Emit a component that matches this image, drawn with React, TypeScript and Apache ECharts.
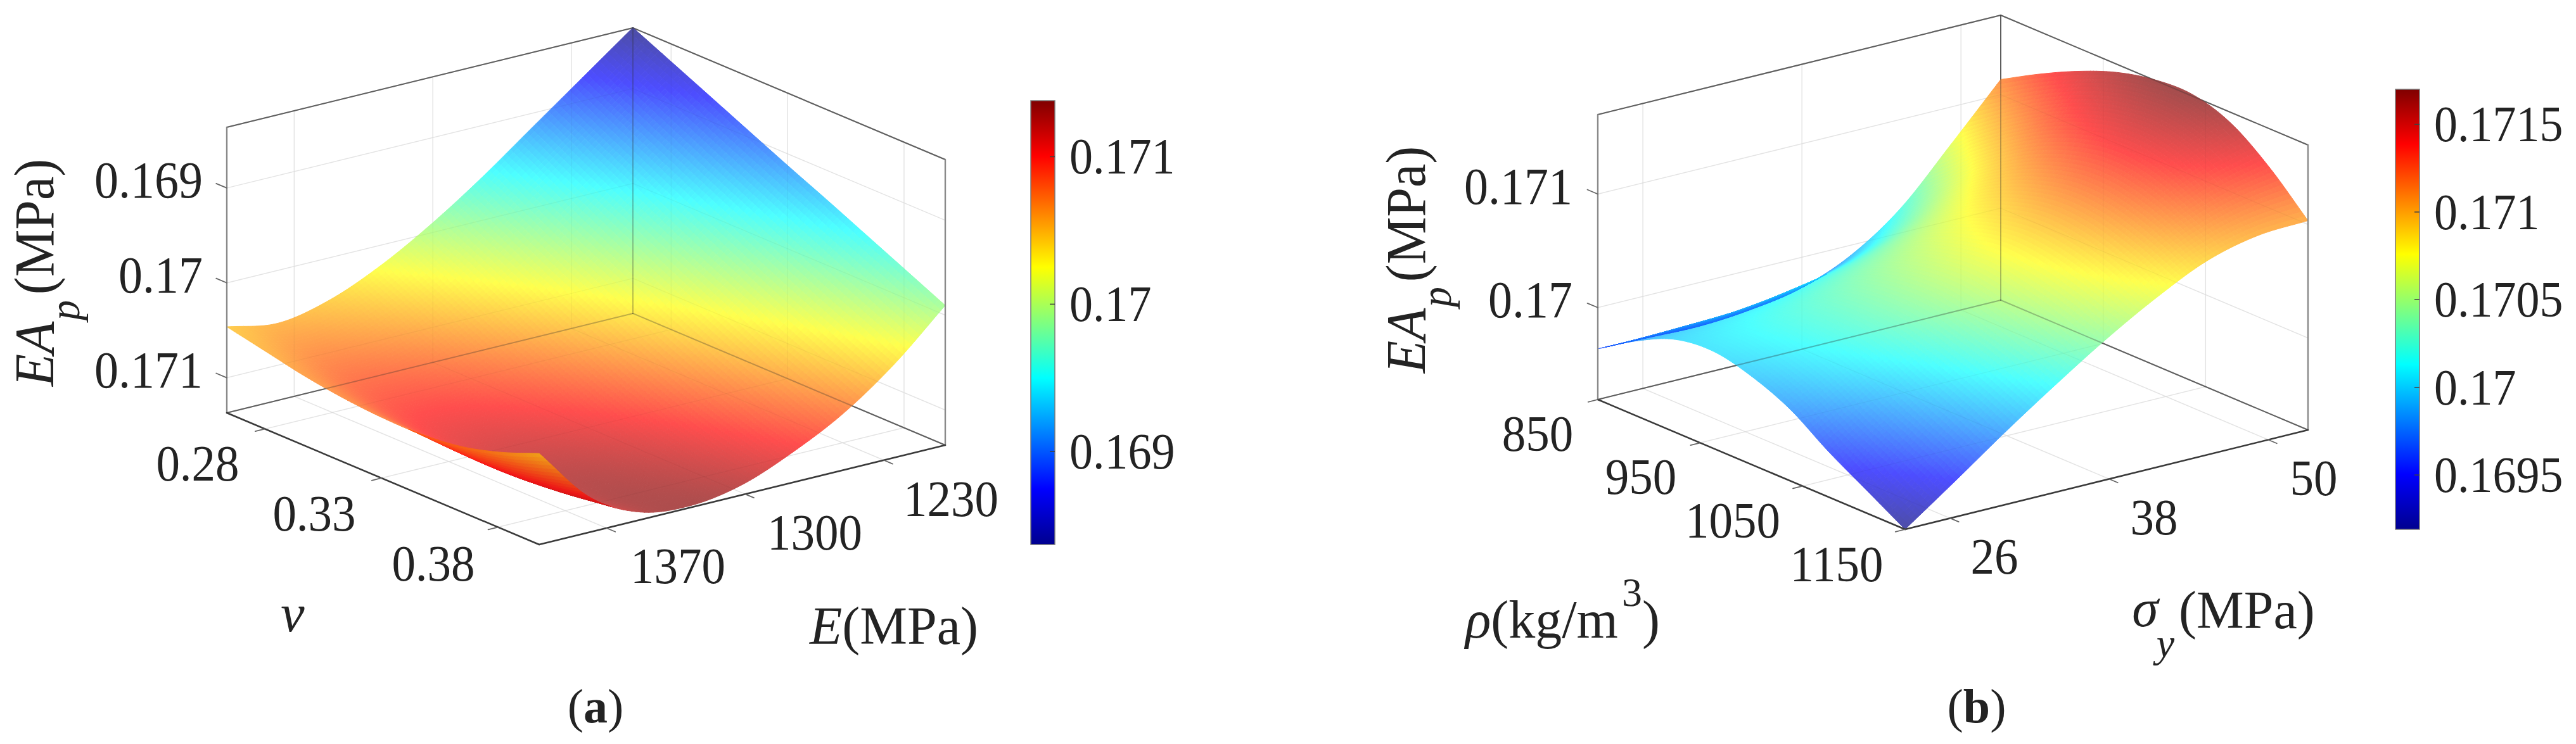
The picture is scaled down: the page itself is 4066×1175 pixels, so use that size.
import React, { useEffect, useRef } from "react";
import * as echarts from "echarts";

// ---------- data ----------
const poissonRatio = [0.2636, 0.2804, 0.2971, 0.3139, 0.3307, 0.3474, 0.3642, 0.3809, 0.3977];
const youngModulus = [1404, 1378, 1353, 1327, 1301, 1276, 1250, 1224, 1199];
// rows follow youngModulus, columns follow poissonRatio
const eaByPoissonAndModulus = [
  [0.170463, 0.17055, 0.170637, 0.170697, 0.17073, 0.17073, 0.170683, 0.17057, 0.17041],
  [0.170557, 0.170697, 0.17083, 0.170943, 0.171037, 0.171097, 0.171117, 0.171083, 0.171003],
  [0.17045, 0.170623, 0.170803, 0.170957, 0.17109, 0.171197, 0.171277, 0.171303, 0.17129],
  [0.170223, 0.170423, 0.170623, 0.170803, 0.17097, 0.171117, 0.17123, 0.171303, 0.17135],
  [0.169917, 0.17013, 0.170343, 0.17055, 0.170737, 0.17091, 0.171057, 0.17117, 0.171263],
  [0.169557, 0.169777, 0.170003, 0.17021, 0.17041, 0.170603, 0.170777, 0.170923, 0.17105],
  [0.169157, 0.169383, 0.169603, 0.169823, 0.170037, 0.170237, 0.17043, 0.170603, 0.17077],
  [0.168757, 0.16897, 0.169183, 0.169397, 0.169603, 0.16981, 0.17001, 0.170197, 0.170383],
  [0.168357, 0.16855, 0.168743, 0.168937, 0.16913, 0.169317, 0.16951, 0.169703, 0.169897],
];
const density = [850, 887.5, 925, 962.5, 1000, 1037.5, 1075, 1112.5, 1150];
const yieldStress = [22.6, 26.4, 30.2, 34, 37.8, 41.6, 45.4, 49.2, 53];
// rows follow yieldStress, columns follow density
const eaByDensityAndYield = [
  [0.169637, 0.169849, 0.170006, 0.170045, 0.169967, 0.169821, 0.169592, 0.169391, 0.16919],
  [0.169626, 0.169872, 0.170067, 0.170151, 0.170129, 0.170039, 0.16986, 0.169687, 0.169508],
  [0.169615, 0.169894, 0.170123, 0.170263, 0.170296, 0.170257, 0.170134, 0.169995, 0.169833],
  [0.169648, 0.169955, 0.170212, 0.170391, 0.170475, 0.170486, 0.170402, 0.170285, 0.17014],
  [0.169726, 0.17005, 0.170335, 0.170542, 0.170665, 0.170721, 0.170671, 0.17057, 0.17043],
  [0.169905, 0.170229, 0.17052, 0.170743, 0.170894, 0.170972, 0.170944, 0.170838, 0.170687],
  [0.170212, 0.17052, 0.170793, 0.171011, 0.171162, 0.17124, 0.171207, 0.171084, 0.1709],
  [0.170665, 0.170922, 0.171145, 0.17133, 0.171453, 0.171503, 0.171436, 0.171257, 0.171011],
  [0.171134, 0.171324, 0.171492, 0.171626, 0.171704, 0.171715, 0.171604, 0.171358, 0.171034],
];
const poissonTicks = ["0.28", "0.33", "0.38"];
const modulusTicks = ["1370", "1300", "1230"];
const densityTicks = ["850", "950", "1050", "1150"];
const yieldTicks = ["26", "38", "50"];
const eaTicksA = ["0.169", "0.17", "0.171"];
const eaTicksB = ["0.17", "0.171"];
const colorTicksA = ["0.171", "0.17", "0.169"];
const colorTicksB = ["0.1715", "0.171", "0.1705", "0.17", "0.1695"];

// ---------- layout ----------
const W = 4066;
const H = 1175;
const SERIF = "Liberation Serif";
const INK = "#232323";
const SUB = 12;

const panels: any[] = [
  {
    xs: poissonRatio, ys: youngModulus, zs: eaByPoissonAndModulus,
    xTicks: poissonTicks, yTicks: modulusTicks, zTicks: eaTicksA,
    org: [358, 652], vS: [493, 208], vU: [641, -157], boxH: 451,
    zFloor: 0.17137, zTop: 0.16836, cMin: 0.16837, cMax: 0.17138,
    xLabelAt: [[312, 732], [496, 811], [684, 890]],
    yLabelAt: [[1070, 894], [1286, 841], [1501, 788]],
    zLabelX: 320, zLabelDy: -12,
    bar: { x: 1627, y: 159, w: 38, h: 701, labelX: 1688, ticks: colorTicksA },
  },
  {
    xs: density, ys: yieldStress, zs: eaByDensityAndYield,
    xTicks: densityTicks, yTicks: yieldTicks, zTicks: eaTicksB,
    org: [2522, 631], vS: [485, 205], vU: [636, -157], boxH: 450,
    zFloor: 0.16919, zTop: 0.1717, cMin: 0.16919, cMax: 0.1717,
    xLabelAt: [[2427, 685], [2590, 753], [2735, 822], [2899, 891]],
    yLabelAt: [[3148, 879], [3400, 817], [3652, 755]],
    zLabelX: 2482, zLabelDy: -12,
    bar: { x: 3781, y: 141, w: 38, h: 695, labelX: 3842, ticks: colorTicksB },
  },
];

const clamp01 = (v: number) => Math.max(0, Math.min(1, v));
function jet(t: number): number[] {
  return [
    clamp01(Math.min(4 * t - 1.5, -4 * t + 4.5)) * 255,
    clamp01(Math.min(4 * t - 0.5, -4 * t + 3.5)) * 255,
    clamp01(Math.min(4 * t + 0.5, -4 * t + 2.5)) * 255,
  ];
}
const over = (c: number[], alpha: number, under: number[]) => c.map((v, k) => v * alpha + under[k] * (1 - alpha));
const css = (c: number[]) => `rgb(${Math.round(c[0])},${Math.round(c[1])},${Math.round(c[2])})`;
const WHITE = [255, 255, 255];

const project = (p: any, s: number, u: number, z: number) => [
  p.org[0] + p.vS[0] * s + p.vU[0] * u,
  p.org[1] + p.vS[1] * s + p.vU[1] * u - ((z - p.zFloor) / (p.zTop - p.zFloor)) * p.boxH,
];
const sOf = (p: any, v: number) => (v - p.xs[0]) / (p.xs[p.xs.length - 1] - p.xs[0]);
const uOf = (p: any, v: number) => (v - p.ys[0]) / (p.ys[p.ys.length - 1] - p.ys[0]);

function spline(a: number, b: number, c: number, d: number, t: number) {
  return 0.5 * (2 * b + (c - a) * t + (2 * a - 5 * b + 4 * c - d) * t * t + (3 * b - a - 3 * c + d) * t * t * t);
}
function sample(grid: number[][], fi: number, fj: number) {
  const n = grid[0].length;
  const m = grid.length;
  const i = Math.min(n - 2, Math.floor(fi));
  const j = Math.min(m - 2, Math.floor(fj));
  const at = (r: number, c: number) => {
    const rr = r < 0 ? 0 : r >= m ? m - 1 : r;
    const cc = c < 0 ? 0 : c >= n ? n - 1 : c;
    const base = grid[rr][cc];
    const dr = r < 0 ? grid[0][cc] - grid[1][cc] : r >= m ? grid[m - 1][cc] - grid[m - 2][cc] : 0;
    const dc = c < 0 ? grid[rr][0] - grid[rr][1] : c >= n ? grid[rr][n - 1] - grid[rr][n - 2] : 0;
    return base + dr + dc;
  };
  const row = [-1, 0, 1, 2].map((dj) =>
    spline(at(j + dj, i - 1), at(j + dj, i), at(j + dj, i + 1), at(j + dj, i + 2), fi - i)
  );
  return spline(row[0], row[1], row[2], row[3], fj - j);
}

function buildMesh(p: any) {
  const n = p.xs.length - 1;
  const m = p.ys.length - 1;
  const verts: any[][] = [];
  for (let a = 0; a <= n * SUB; a++) {
    verts[a] = [];
    for (let b = 0; b <= m * SUB; b++) {
      const fi = a / SUB;
      const fj = b / SUB;
      const z = sample(p.zs, fi, fj);
      verts[a][b] = { pt: project(p, fi / n, fj / m, z), z };
    }
  }
  const refSign = Math.sign(p.vS[0] * p.vU[1] - p.vS[1] * p.vU[0]);
  const cells: any[] = [];
  const front: any[] = [];
  const back: any[] = [];
  for (let i = 0; i < n; i++) {
    for (let j = m - 1; j >= 0; j--) {
      const faces: any[] = [];
      for (let da = 0; da < SUB; da++) {
        for (let db = SUB - 1; db >= 0; db--) {
          const a = i * SUB + da;
          const b = j * SUB + db;
          const q = [verts[a][b], verts[a + 1][b], verts[a + 1][b + 1], verts[a][b + 1]];
          const pts = q.map((v) => v.pt);
          let area = 0;
          for (let k = 0; k < 4; k++) {
            const e = pts[k];
            const f = pts[(k + 1) % 4];
            area += e[0] * f[1] - f[0] * e[1];
          }
          const z = (q[0].z + q[1].z + q[2].z + q[3].z) / 4;
          const c = jet(clamp01((z - p.cMin) / (p.cMax - p.cMin)));
          const cx = (pts[0][0] + pts[2][0]) / 2;
          const cy = (pts[0][1] + pts[2][1]) / 2;
          const face: any = { pts, c, cx, cy, main: over(c, 0.7, WHITE) };
          if (Math.sign(area) === refSign || Math.abs(area) < 1e-6) {
            faces.push(face);
            front.push(face);
          } else {
            back.push(face);
          }
        }
      }
      cells.push(faces);
    }
  }
  back.forEach((f) => {
    let best = 1e12;
    let under = f.main;
    for (const g of front) {
      const d = (g.cx - f.cx) ** 2 + (g.cy - f.cy) ** 2;
      if (d < best) {
        best = d;
        under = g.main;
      }
    }
    f.fill = over(f.c, 0.7, under);
  });
  return { cells, back };
}

function backGrid(p: any) {
  const out: any[] = [];
  const L = (a: number[], b: number[]) => out.push([project(p, a[0], a[1], a[2]), project(p, b[0], b[1], b[2])]);
  p.xTicks.forEach((t: string) => {
    const s = sOf(p, +t);
    L([s, 0, p.zFloor], [s, 1, p.zFloor]);
    L([s, 1, p.zFloor], [s, 1, p.zTop]);
  });
  p.yTicks.forEach((t: string) => {
    const u = uOf(p, +t);
    L([0, u, p.zFloor], [1, u, p.zFloor]);
    L([0, u, p.zFloor], [0, u, p.zTop]);
  });
  p.zTicks.forEach((t: string) => {
    const z = +t;
    L([0, 0, z], [0, 1, z]);
    L([0, 1, z], [1, 1, z]);
  });
  return out;
}
function backBox(p: any) {
  const c = (s: number, u: number, top: boolean) => project(p, s, u, top ? p.zTop : p.zFloor);
  return [
    [c(0, 0, true), c(0, 1, true)],
    [c(0, 1, true), c(1, 1, true)],
    [c(0, 1, true), c(0, 1, false)],
    [c(0, 0, false), c(0, 1, false)],
    [c(0, 1, false), c(1, 1, false)],
  ];
}
function frontBox(p: any) {
  const c = (s: number, u: number, top: boolean) => project(p, s, u, top ? p.zTop : p.zFloor);
  return [
    [c(0, 0, false), c(1, 0, false)],
    [c(1, 0, false), c(1, 1, false)],
  ];
}
function sideBox(p: any) {
  const c = (s: number, u: number, top: boolean) => project(p, s, u, top ? p.zTop : p.zFloor);
  return [
    [c(0, 0, true), c(0, 0, false)],
    [c(1, 1, true), c(1, 1, false)],
  ];
}
function tickMarks(p: any) {
  const out: any[] = [];
  p.xTicks.forEach((t: string) => {
    const a = project(p, sOf(p, +t), 0, p.zFloor);
    out.push([a, [a[0] - p.vU[0] * 0.024, a[1] - p.vU[1] * 0.024]]);
  });
  p.yTicks.forEach((t: string) => {
    const a = project(p, 1, uOf(p, +t), p.zFloor);
    out.push([a, [a[0] + p.vS[0] * 0.028, a[1] + p.vS[1] * 0.028]]);
  });
  p.zTicks.forEach((t: string) => {
    const a = project(p, 0, 0, +t);
    out.push([a, [a[0] - p.vS[0] * 0.034, a[1] - p.vS[1] * 0.034]]);
  });
  return out;
}

function lineSeries(lines: any[], stroke: string, lineWidth: number, z: number, opacity = 1) {
  return {
    type: "custom", coordinateSystem: "cartesian2d", silent: true, clip: false, z, data: [[0, 0]],
    renderItem: (_: any, api: any) => ({
      type: "group",
      children: lines.map((l) => {
        const a = api.coord(l[0]);
        const b = api.coord(l[1]);
        return {
          type: "line",
          shape: { x1: a[0], y1: a[1], x2: b[0], y2: b[1] },
          style: { stroke, lineWidth, opacity, lineCap: "round" },
        };
      }),
    }),
  };
}

function buildSeries() {
  const series: any[] = [];
  panels.forEach((p) => {
    const mesh = buildMesh(p);
    const grid = backGrid(p);
    const box = backBox(p);
    series.push(lineSeries(grid, "#ececec", 1.5, 1));
    series.push(lineSeries(box, "#757575", 2, 2));
    series.push({
      type: "custom", coordinateSystem: "cartesian2d", silent: true, clip: false, z: 3,
      data: mesh.cells.map((_: any, k: number) => [k, 0]),
      renderItem: (params: any, api: any) => ({
        type: "group",
        children: mesh.cells[params.dataIndex].map((f: any) => {
          const fill = css(f.main);
          return {
            type: "polygon",
            shape: { points: f.pts.map((q: number[]) => api.coord(q)) },
            style: { fill, stroke: fill, lineWidth: 1 },
          };
        }),
      }),
    });
    series.push(lineSeries(grid, "#000000", 1.4, 4, 0.035));
    series.push(lineSeries(box, "#303030", 2, 4, 0.3));
    series.push({
      type: "custom", coordinateSystem: "cartesian2d", silent: true, clip: false, z: 5, data: [[0, 0]],
      renderItem: (_: any, api: any) => ({
        type: "group",
        children: mesh.back.map((f: any) => {
          const fill = css(f.fill);
          return {
            type: "polygon",
            shape: { points: f.pts.map((q: number[]) => api.coord(q)) },
            style: { fill, stroke: fill, lineWidth: 1 },
          };
        }),
      }),
    });
    series.push(lineSeries(sideBox(p), "#8a8a8a", 2.4, 6));
    series.push(lineSeries(frontBox(p), "#3a3a3a", 2.6, 6));
    series.push(lineSeries(tickMarks(p), "#666666", 1.8, 6));
  });
  return series;
}

// ---------- texts and colour bars ----------
function label(text: string, x: number, y: number, fontSize: number, align = "center", extra: any = {}) {
  return {
    type: "text", x, y, rotation: extra.rotation || 0, scaleY: extra.scaleY || 1, z: 20, silent: true,
    style: {
      text, x: 0, y: 0, fill: INK, align, verticalAlign: "middle",
      fontFamily: SERIF, fontSize, fontStyle: extra.italic ? "italic" : "normal",
      fontWeight: extra.bold ? "bold" : "normal",
      rich: extra.rich,
    },
  };
}
function rich(fontSize: number) {
  const common = { fontFamily: SERIF, fontSize, fill: INK };
  return {
    i: { ...common, fontStyle: "italic" },
    n: { ...common },
    b: { ...common, fontWeight: "bold" },
  };
}

function buildGraphics() {
  const els: any[] = [];
  const tall = { scaleY: 1.08 };
  panels.forEach((p) => {
    p.xTicks.forEach((t: string, k: number) => els.push(label(t, p.xLabelAt[k][0], p.xLabelAt[k][1], 75, "center", tall)));
    p.yTicks.forEach((t: string, k: number) => els.push(label(t, p.yLabelAt[k][0], p.yLabelAt[k][1], 75, "center", tall)));
    p.zTicks.forEach((t: string) => {
      const a = project(p, 0, 0, +t);
      els.push(label(t, p.zLabelX, a[1] + p.zLabelDy, 76, "right", tall));
    });
    const b = p.bar;
    const toY = (v: number) => b.y + ((p.cMax - v) / (p.cMax - p.cMin)) * b.h;
    els.push({
      type: "rect", z: 15, silent: true,
      shape: { x: b.x, y: b.y, width: b.w, height: b.h },
      style: {
        stroke: "#7a7a7a", lineWidth: 1.5,
        fill: {
          type: "linear", x: 0, y: 1, x2: 0, y2: 0,
          colorStops: [
            { offset: 0, color: "#00008f" }, { offset: 0.125, color: "#0000ff" },
            { offset: 0.375, color: "#00ffff" }, { offset: 0.625, color: "#ffff00" },
            { offset: 0.875, color: "#ff0000" }, { offset: 1, color: "#800000" },
          ],
        },
      },
    });
    b.ticks.forEach((t: string) => {
      const y = toY(+t);
      els.push({
        type: "line", z: 16, silent: true,
        shape: { x1: b.x + b.w - 8, y1: y, x2: b.x + b.w, y2: y },
        style: { stroke: "#404040", lineWidth: 1.5 },
      });
      els.push(label(t, b.labelX, y, 74, "left", tall));
    });
  });
  const up = { rotation: Math.PI / 2, scaleY: 1.05 };
  // panel (a)
  els.push(label("EA", 54, 559, 84, "center", { ...up, italic: true }));
  els.push(label("p", 102, 490, 64, "center", { ...up, italic: true }));
  els.push(label("(MPa)", 54, 358, 84, "center", up));
  els.push(label("ν", 462, 968, 84, "center", { italic: true }));
  els.push(label("{i|E}{n|(MPa)}", 1411, 988, 84, "center", { rich: rich(84) }));
  els.push(label("({b|a})", 940, 1115, 76, "center", { rich: rich(76) }));
  // panel (b)
  els.push(label("EA", 2219, 538, 84, "center", { ...up, italic: true }));
  els.push(label("p", 2267, 469, 64, "center", { ...up, italic: true }));
  els.push(label("(MPa)", 2219, 338, 84, "center", up));
  els.push(label("{i|ρ}{n|(kg/m}", 2313, 978, 84, "left", { rich: rich(84) }));
  els.push(label("3", 2576, 935, 64, "center"));
  els.push(label(")", 2592, 978, 84, "left"));
  els.push(label("σ", 3386, 960, 84, "center", { italic: true }));
  els.push(label("y", 3418, 1015, 64, "center", { italic: true }));
  els.push(label("(MPa)", 3439, 963, 84, "left"));
  els.push(label("({b|b})", 3120, 1115, 76, "center", { rich: rich(76) }));
  return els;
}

export default function App() {
  const ref = useRef<HTMLDivElement>(null);
  useEffect(() => {
    const chart = echarts.init(ref.current!, undefined, { renderer: "svg" });
    chart.setOption({
      animation: false,
      backgroundColor: "#ffffff",
      grid: { left: 0, right: 0, top: 0, bottom: 0 },
      xAxis: { type: "value", min: 0, max: W, show: false },
      yAxis: { type: "value", min: 0, max: H, inverse: true, show: false },
      series: buildSeries(),
      graphic: { elements: buildGraphics() },
    });
    return () => chart.dispose();
  }, []);
  return <div ref={ref} style={{ position: "fixed", left: 0, top: 0, width: W, height: H, background: "#fff" }} />;
}
